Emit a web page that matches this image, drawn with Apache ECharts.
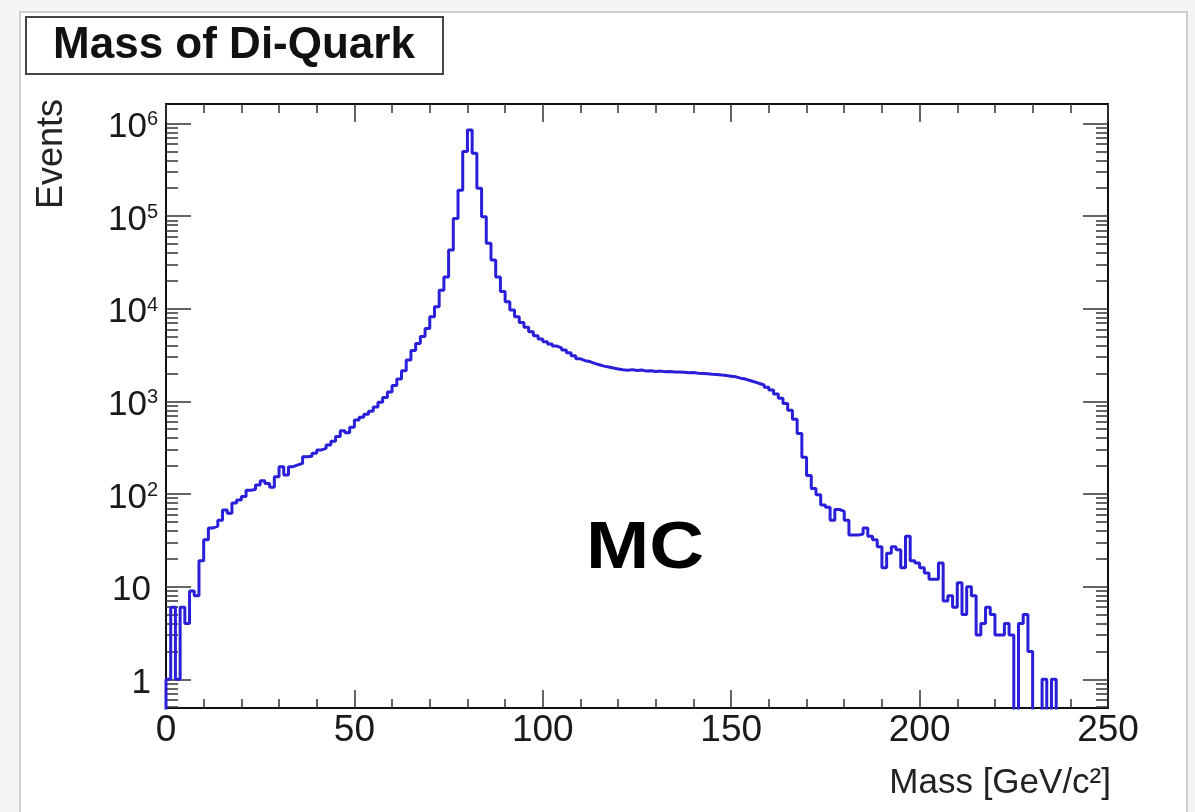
<!DOCTYPE html>
<html lang="en">

<head>
    <meta charset="UTF-8">
    <title>Mass of Di-Quark</title>
    <script src="https://cdn.jsdelivr.net/npm/echarts@6/dist/echarts.min.js"></script>
    <style>
        body { margin: 0; background: #f5f5f5; }
    </style>
</head>

<body>
    <div id="main" style="width: 1195px; height: 812px;"></div>
    <script>
    // histogram: 200 bins of 1.25 GeV from 0 to 250
    const binWidth = 1.25
    const counts = [
        1, 6, 1, 6, 4, 9, 8, 19, 32, 43,
        45, 52, 67, 62, 80, 86, 94, 110, 112, 125,
        139, 130, 118, 154, 197, 160, 197, 206, 214, 252,
        255, 276, 299, 311, 338, 370, 417, 482, 457, 525,
        630, 675, 725, 780, 870, 980, 1100, 1260, 1480, 1740,
        2140, 2800, 3550, 4200, 5000, 6100, 8200, 10500, 15800, 22000,
        43000, 94000, 190000, 496000, 850000, 475000, 200000, 98000, 51000, 33600,
        22000, 15300, 11900, 9700, 8200, 7100, 6300, 5650, 5100, 4700,
        4400, 4160, 3950, 3770, 3580, 3350, 3100, 2880, 2750, 2690,
        2570, 2480, 2400, 2350, 2290, 2240, 2190, 2170, 2200, 2150,
        2180, 2120, 2140, 2100, 2120, 2090, 2100, 2070, 2080, 2060,
        2040, 2050, 2010, 2000, 1980, 1960, 1950, 1920, 1900, 1870,
        1840, 1780, 1740, 1680, 1620, 1560, 1500, 1420, 1330, 1200,
        1080, 950, 800, 640, 450, 250, 158, 115, 98, 76,
        72, 52, 68, 65, 52, 36, 36, 37, 43, 35,
        32, 27, 16, 23, 27, 25, 16, 35, 19, 18,
        16, 14, 12, 12, 18, 7, 8, 6, 11, 5,
        10, 8, 3, 4, 6, 5, 3, 3, 4, 3,
        0, 4, 5, 2, 0, 0, 1, 0, 1, 0,
        0, 0, 0, 0, 0, 0, 0, 0, 0, 0
    ]
    // y axis decades (powers of ten) and x axis range
    const yDecades = [0, 1, 2, 3, 4, 5, 6]
    const yRange = [0.49, 1.62e6]
    const xRange = [0, 250]
    const xStep = 50

    const font = '"Liberation Sans", Arial, Helvetica, sans-serif'
    const lg = Math.log10
    const yMin = lg(yRange[0])
    const yMax = lg(yRange[1])
    const FLOOR = yMin - 1   // empty bins fall below the frame and get clipped

    // minor log ticks: 2..9 times each decade, inside the range
    const minorTicks = []
    for (let d = -1; d <= 6; d++) {
        for (let k = 2; k <= 9; k++) {
            const v = lg(k) + d
            if (v >= yMin && v <= yMax) minorTicks.push(v)
        }
    }

    function toSteps(data) {
        const pts = [[xRange[0], FLOOR]]
        data.forEach(function (c, i) {
            pts.push([i * binWidth, c > 0 ? lg(c) : FLOOR])
        })
        pts.push([data.length * binWidth, FLOOR])
        return pts
    }

    const tickStyle = { color: '#333', width: 1.5 }
    const frameStyle = { color: '#111', width: 2 }

    function xAxisDef(pos, showLabels) {
        return {
            type: 'value',
            position: pos,
            min: xRange[0],
            max: xRange[1],
            interval: xStep,
            axisLine: { onZero: false, lineStyle: frameStyle },
            axisTick: { inside: true, length: 18, lineStyle: tickStyle },
            minorTick: { show: true, splitNumber: 5, length: 9, lineStyle: tickStyle },
            splitLine: { show: false },
            minorSplitLine: { show: false },
            axisLabel: {
                show: showLabels,
                fontSize: 37,
                fontFamily: font,
                color: '#1a1a1a',
                margin: 4
            }
        }
    }

    function yAxisDef(pos, major, showLabels) {
        return {
            type: 'value',
            position: pos,
            min: yMin,
            max: yMax,
            axisLine: { show: major, onZero: false, lineStyle: frameStyle },
            axisTick: {
                inside: true,
                length: major ? 25 : 12,
                customValues: major ? yDecades : minorTicks,
                lineStyle: tickStyle
            },
            splitLine: { show: false },
            axisLabel: {
                show: showLabels,
                customValues: yDecades,
                margin: 8,
                padding: [8, 0, 0, 0],
                fontSize: 35,
                fontFamily: font,
                color: '#1a1a1a',
                formatter: function (v) {
                    const e = Math.round(v)
                    if (e === 0) return '{p|1}'
                    if (e === 1) return '{p|10}'
                    return '{b|10}{s|' + e + '}'
                },
                rich: {
                    p: { fontSize: 35, fontFamily: font, color: '#1a1a1a', padding: [0, 7, 0, 0] },
                    b: { fontSize: 35, fontFamily: font, color: '#1a1a1a' },
                    s: { fontSize: 20, fontFamily: font, color: '#1a1a1a', verticalAlign: 'top' }
                }
            }
        }
    }

    const myChart = echarts.init(document.getElementById('main'))
    const option = {
        animation: false,
        backgroundColor: '#f5f5f5',
        grid: {
            left: 166,
            right: 87,
            top: 104,
            bottom: 104,
            containLabel: false,
            outerBoundsMode: 'none'
        },
        xAxis: [xAxisDef('bottom', true), xAxisDef('top', false)],
        yAxis: [
            yAxisDef('left', true, true),
            yAxisDef('left', false, false),
            yAxisDef('right', true, false),
            yAxisDef('right', false, false)
        ],
        graphic: [
            {
                type: 'rect',
                z: -5,
                shape: { x: 20, y: 12, width: 1167, height: 812 },
                style: { fill: '#fff', stroke: '#cfcfcf', lineWidth: 2 }
            },
            {
                type: 'rect',
                z: 10,
                shape: { x: 26, y: 17, width: 417, height: 57 },
                style: { fill: '#fff', stroke: '#444', lineWidth: 2 }
            },
            {
                type: 'text',
                z: 11,
                x: 234,
                y: 46,
                style: {
                    text: 'Mass of Di-Quark',
                    font: 'bold 44px ' + font,
                    fill: '#111',
                    align: 'center',
                    verticalAlign: 'middle'
                }
            },
            {
                type: 'text',
                z: 11,
                x: 52,
                y: 99,
                rotation: Math.PI / 2,
                style: {
                    text: 'Events',
                    font: '36px ' + font,
                    fill: '#222',
                    align: 'right',
                    verticalAlign: 'middle'
                }
            },
            {
                type: 'text',
                z: 11,
                x: 1111,
                y: 783,
                style: {
                    text: 'Mass [GeV/c\u00b2]',
                    font: '35px ' + font,
                    fill: '#222',
                    align: 'right',
                    verticalAlign: 'middle'
                }
            },
            {
                type: 'text',
                z: 11,
                x: 645,
                y: 550,
                scaleX: 1.15,
                style: {
                    text: 'MC',
                    font: 'bold 66px ' + font,
                    fill: '#000',
                    align: 'center',
                    verticalAlign: 'middle'
                }
            }
        ],
        series: [
            {
                name: 'Mass of Di-Quark',
                type: 'line',
                step: 'end',
                xAxisIndex: 0,
                yAxisIndex: 0,
                symbol: 'none',
                clip: true,
                data: toSteps(counts),
                lineStyle: { color: '#2a1fd8', width: 3 }
            }
        ]
    }
    myChart.setOption(option)
    </script>
</body>

</html>
